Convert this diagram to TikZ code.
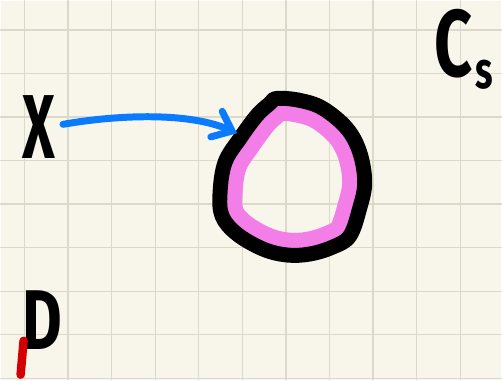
\documentclass[tikz,border=0pt]{standalone}
\usepackage{fontspec}
\setmainfont{Fira Sans}
\usetikzlibrary{arrows.meta}

\definecolor{paper}{HTML}{F8F6EA}
\definecolor{gridline}{HTML}{DCD9CB}
\definecolor{blobpink}{HTML}{F47EE8}
\definecolor{penblue}{HTML}{0A7BFF}
\definecolor{penred}{HTML}{D20000}

\begin{document}
\begin{tikzpicture}[x=1pt, y=-1pt, line cap=round, line join=round,
    letter/.style={anchor=center, inner sep=0pt, text=black},
    link/.style={draw=penblue, line width=7pt, -{Straight Barb[length=17pt, width=28pt, line cap=round]}}]

  % ── 纸面与网格 ──
  \fill[paper] (0,0) rectangle (502,380);
  \foreach \gx in {0,...,10}
    \draw[gridline, line width=1.3pt] (24+43.67*\gx,0) -- (24+43.67*\gx,380);
  \foreach \gy in {0,...,8}
    \draw[gridline, line width=1.3pt] (0,29.3+43.67*\gy) -- (502,29.3+43.67*\gy);

  % ── 圆团：先粉色内圈（裁剪在内部），再黑色粗边 ──
  \def\blob{plot[smooth cycle, tension=0.6] coordinates {(277,98) (300,100) (323,108) (347,128) (360,152) (365,182) (360,208) (350,236) (333,247) (310,254) (287,255) (263,249) (237,234) (222,216) (220,192) (225,162) (240,138) (257,115) (270,103)}}
  \begin{scope}
    \clip \blob;
    \draw[blobpink, line width=45pt] \blob;
  \end{scope}
  \draw[black, line width=15pt] \blob;

  % ── 标签 ──
  \node[letter, xscale=0.62, font=\bfseries\fontsize{91}{91}\selectfont] (X) at (38,127) {X};
  \node[letter, xscale=0.72, font=\bfseries\fontsize{85}{85}\selectfont] (D) at (42,320) {D};
  \node[anchor=base west, inner sep=0pt, xscale=0.7, font=\bfseries\fontsize{95}{95}\selectfont] (Cs) at (435,76)
    {C\hspace{4pt}{\fontsize{52}{52}\selectfont\raisebox{-12pt}{s}}};

  % ── 箭头 X → 圆团 ──
  \coordinate (hit) at (237,133);
  \draw[link] ([shift={(8,-3)}]X.east) .. controls (120,114) and (190,112) .. (hit);

  % ── 红色小笔画 ──
  \draw[penred, line width=8.5pt] (23,341) -- (20,375);

  \path[use as bounding box] (0,0) rectangle (502,380);
\end{tikzpicture}
\end{document}
